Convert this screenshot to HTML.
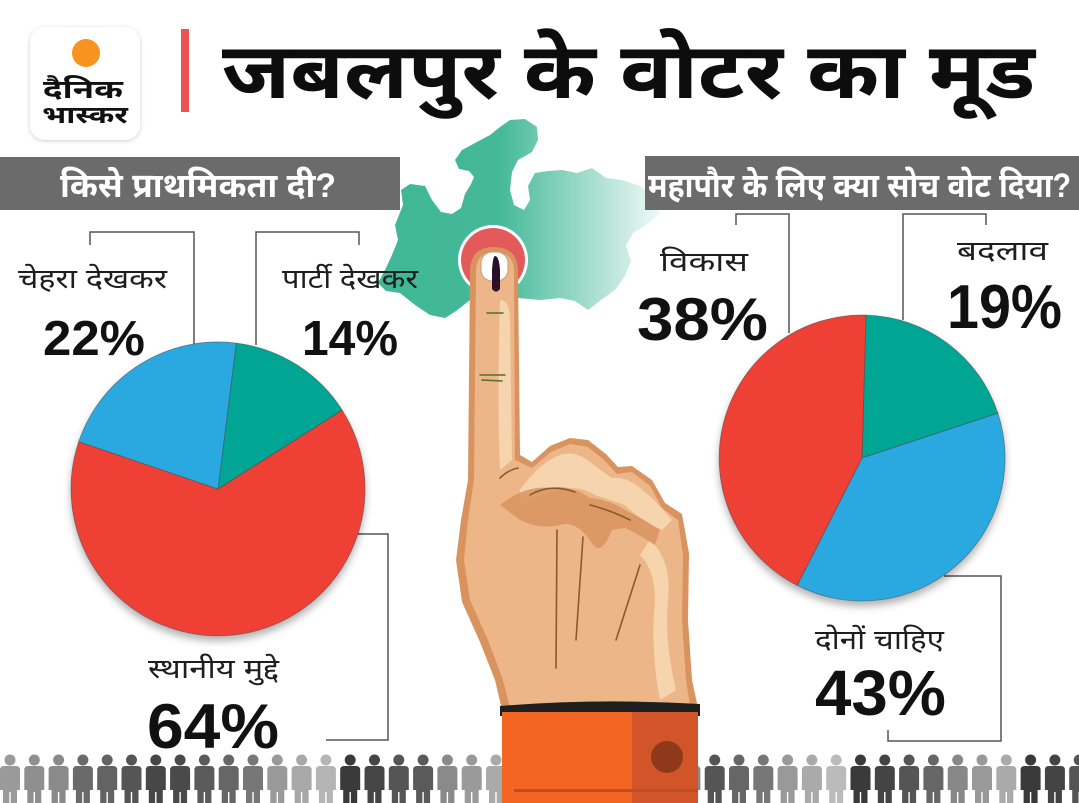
<!DOCTYPE html>
<html><head><meta charset="utf-8"><style>
html,body{margin:0;padding:0;background:#fff;width:1079px;height:803px;overflow:hidden}
svg{display:block}
text{font-family:"Liberation Sans","Noto Sans Devanagari","Lohit Devanagari",FreeSans,sans-serif}
</style></head><body>
<svg width="1079" height="803" viewBox="0 0 1079 803" xmlns="http://www.w3.org/2000/svg">
<defs>
<linearGradient id="mapg" x1="380" y1="0" x2="665" y2="0" gradientUnits="userSpaceOnUse">
<stop offset="0" stop-color="#3fb795"/><stop offset="0.42" stop-color="#45b999"/><stop offset="1" stop-color="#45b999" stop-opacity="0.05"/>
</linearGradient>
<filter id="sh" x="-20%" y="-20%" width="140%" height="150%"><feDropShadow dx="0" dy="5" stdDeviation="4" flood-color="#000" flood-opacity="0.3"/></filter>
<filter id="ls" x="-20%" y="-20%" width="140%" height="140%"><feDropShadow dx="0" dy="1" stdDeviation="2" flood-color="#000" flood-opacity="0.2"/></filter>
</defs>

<!-- logo -->
<rect x="30" y="27" width="110" height="113" rx="15" fill="#fff" filter="url(#ls)"/>
<circle cx="86" cy="53" r="14" fill="#f7931e"/>
<text x="43" y="98" font-size="26" font-weight="bold" fill="#111" textLength="80" lengthAdjust="spacingAndGlyphs">दैनिक</text>
<text x="42" y="123" font-size="24" font-weight="bold" fill="#111" textLength="86" lengthAdjust="spacingAndGlyphs">भास्कर</text>

<!-- red bar + title -->
<rect x="181" y="29" width="8" height="83" fill="#ee5252"/>
<text x="222" y="98" font-size="78" font-weight="bold" fill="#0d0d0d" textLength="813" lengthAdjust="spacingAndGlyphs">जबलपुर के वोटर का मूड</text>

<!-- map -->
<path fill="url(#mapg)" d="M455,160 L462,150 L475,143 L490,135 L500,127 L510,120 L525,119 L537,127 L538,140 L532,152 L518,160 L512,172 L510,190 L514,205 L524,210 L530,200 L528,186 L535,173 L548,171 L562,170 L577,173 L592,168 L606,178 L622,180 L640,186 L656,198 L660,214 L646,225 L633,233 L626,246 L631,261 L625,276 L615,290 L601,300 L588,310 L575,301 L560,298 L540,300 L518,298 L470,300 L456,311 L445,318 L430,315 L415,305 L400,293 L386,291 L378,283 L385,270 L392,255 L398,240 L395,225 L403,205 L401,190 L410,184 L425,186 L432,200 L441,212 L452,214 L461,208 L465,194 L471,184 L474,177 L469,171 L459,169 Z"/>

<!-- gray headers -->
<rect x="0" y="157" width="400" height="53" fill="#6b6b6b"/>
<text x="60" y="197" font-size="34" font-weight="bold" fill="#fff" textLength="276" lengthAdjust="spacingAndGlyphs">किसे प्राथमिकता दी?</text>
<rect x="645" y="156" width="434" height="54" fill="#6b6b6b"/>
<text x="648" y="197" font-size="34" font-weight="bold" fill="#fff" textLength="423" lengthAdjust="spacingAndGlyphs">महापौर के लिए क्या सोच वोट दिया?</text>

<!-- people row -->
<g id="people">
<g fill="#9a9a9a"><circle cx="10" cy="760" r="5.5"/><path d="M1,768 Q1,765 5,765 L15,765 Q19,765 19,768 L19,790 L16,790 L16,803 L4,803 L4,790 L1,790 Z"/></g>
</g>
<g id="pp"></g>

<!-- connectors -->
<g fill="none" stroke="#555" stroke-width="1.5">
<polyline points="90,245 90,232 194,232 194,345"/>
<polyline points="256,345 256,232 359,232 359,245"/>
<polyline points="358,534 388,534 388,740 326,740"/>
<polyline points="736,225 736,214 789,214 789,333"/>
<polyline points="903,320 903,214 986,214 986,225"/>
<polyline points="944,576 1001,576 1001,741 888,741 888,730"/>
</g>

<!-- left pie -->
<g filter="url(#sh)" stroke="#4a4a4a" stroke-width="0.8" stroke-opacity="0.6">
<path fill="#00a594" d="M218,489 L236.2,343.1 A147,147 0 0 1 342.2,410.2 Z"/>
<path fill="#ee4036" d="M218,489 L342.2,410.2 A147,147 0 1 1 78.8,441.6 Z"/>
<path fill="#2ca9e1" d="M218,489 L78.8,441.6 A147,147 0 0 1 236.2,343.1 Z"/>
</g>
<!-- right pie -->
<g filter="url(#sh)" stroke="#4a4a4a" stroke-width="0.8" stroke-opacity="0.6">
<path fill="#00a594" d="M862,458 L866,315.1 A143,143 0 0 1 997.9,413.3 Z"/>
<path fill="#2ca9e1" d="M862,458 L997.9,413.3 A143,143 0 0 1 797.1,585.4 Z"/>
<path fill="#ee4036" d="M862,458 L797.1,585.4 A143,143 0 0 1 866,315.1 Z"/>
</g>

<!-- labels -->
<g fill="#1e1e1e" font-size="27">
<text x="18" y="288" textLength="149" lengthAdjust="spacingAndGlyphs">चेहरा देखकर</text>
<text x="282" y="288" textLength="136" lengthAdjust="spacingAndGlyphs">पार्टी देखकर</text>
<text x="148" y="678" textLength="131" lengthAdjust="spacingAndGlyphs">स्थानीय मुद्दे</text>
<text x="660" y="271" textLength="88" lengthAdjust="spacingAndGlyphs">विकास</text>
<text x="957" y="260" textLength="91" lengthAdjust="spacingAndGlyphs">बदलाव</text>
<text x="815" y="649" textLength="129" lengthAdjust="spacingAndGlyphs">दोनों चाहिए</text>
</g>
<g fill="#111" font-weight="bold">
<text x="43" y="355" font-size="49" textLength="102" lengthAdjust="spacingAndGlyphs">22%</text>
<text x="302" y="355" font-size="49" textLength="96" lengthAdjust="spacingAndGlyphs">14%</text>
<text x="147" y="748" font-size="63" textLength="132" lengthAdjust="spacingAndGlyphs">64%</text>
<text x="637" y="340" font-size="60" textLength="131" lengthAdjust="spacingAndGlyphs">38%</text>
<text x="947" y="328" font-size="62" textLength="115" lengthAdjust="spacingAndGlyphs">19%</text>
<text x="815" y="715" font-size="64" textLength="131" lengthAdjust="spacingAndGlyphs">43%</text>
</g>

<!-- red circle -->
<circle cx="493" cy="260" r="35" fill="#fff"/>
<circle cx="493" cy="260" r="32" fill="#e35a5a"/>

<!-- hand -->
<path fill="#d9935f" d="M470,272 Q470,247 494,247 Q518,247 518,272 L520,455 L532,462 L550,446 L570,438 L588,440 L606,454 L618,467 L632,466 L652,480 L665,503 L682,514 L689,553 L688,620 L692,680 L698,708 L502,710 L495,680 L480,642 L462,602 L456,560 L461,520 L468,480 Z"/>
<path fill="#ecb689" d="M476,272 Q476,252 494,252 Q514,252 514,272 L515,460 L532,468 L551,452 L570,444 L588,447 L604,460 L617,474 L632,472 L650,486 L662,508 L678,520 L683,555 L682,620 L686,680 L690,706 L510,708 L503,680 L488,640 L470,600 L464,560 L468,520 L474,480 Z"/>
<path fill="#f5d4ae" d="M500,300 Q510,300 510,320 L512,460 L500,470 Q497,400 500,300 Z"/>
<path fill="#f5d4ae" d="M520,490 Q540,462 560,455 Q575,450 590,462 Q600,470 612,478 Q628,476 645,492 Q660,505 672,520 L662,530 Q640,520 625,505 Q610,500 595,495 Q580,485 560,490 Q540,495 520,505 Z"/>
<path fill="#f5d4ae" d="M650,540 Q672,560 668,600 Q664,640 676,690 L660,700 Q650,650 655,600 Q655,570 640,555 Z"/>
<path fill="#d9935f" d="M500,505 Q525,485 550,488 Q570,484 590,498 Q610,500 625,510 Q645,520 660,530 L655,545 Q640,535 625,528 L612,530 Q600,560 590,540 Q575,520 560,525 Q540,530 520,520 Z" opacity="0.85"/>
<g stroke="#8a5a2a" stroke-width="1.6" fill="none" stroke-linecap="round">
<path d="M557,530 L556,668"/><path d="M583,537 L576,640"/><path d="M640,565 L616,640"/>
<path d="M500,478 Q508,470 518,468"/>
<path d="M530,495 Q550,483 575,492"/><path d="M590,505 Q610,510 630,520"/>
</g>
<g stroke="#5a6a2a" stroke-width="1.5" fill="none" stroke-linecap="round">
<path d="M487,313 L503,313"/><path d="M480,375 L505,375"/><path d="M482,380 L502,381"/>
</g>
<!-- nail + ink -->
<rect x="481" y="252" width="27" height="29" rx="11" fill="#fff" stroke="#c99a74" stroke-width="1"/>
<path fill="#2b0f2a" d="M495,256 Q499,256 500,270 L500,289 Q496,294 492,289 L492,270 Q493,256 495,256 Z"/>

<!-- sleeve -->
<path fill="#1f1f1f" d="M500,706 Q600,698 700,704 L700,716 L500,716 Z"/>
<rect x="502" y="712" width="196" height="91" fill="#f26522"/>
<rect x="632" y="712" width="66" height="91" fill="#d2552a"/>
<circle cx="667" cy="757" r="16" fill="#8e3a1a"/>
<rect x="514" y="789" width="184" height="3" fill="#c24c1f"/>

<script>
(function(){
var cols=["#9a9a9a","#8f8f8f","#8a8a8a","#6a6a6a","#636363","#555","#474747","#4a4a4a","#5a5a5a","#666","#777","#999","#a8a8a8","#b5b5b5","#3a3a3a","#454545","#555","#5a5a5a","#8a8a8a","#9a9a9a","#aaa",
"#888","#888","#888","#888","#888","#888","#888","#888",
"#555","#666","#777","#999","#aaa","#bbb","#3a3a3a","#444","#555","#666","#888","#999","#aaa","#3a3a3a","#444","#555"];
var ns="http://www.w3.org/2000/svg",g=document.getElementById("pp");
document.getElementById("people").innerHTML="";
for(var i=0;i<45;i++){
 var x=10+i*24.3;
 var gg=document.createElementNS(ns,"g");gg.setAttribute("fill",cols[i]);
 var c=document.createElementNS(ns,"circle");c.setAttribute("cx",x);c.setAttribute("cy",760);c.setAttribute("r",5.5);gg.appendChild(c);
 var p=document.createElementNS(ns,"path");
 p.setAttribute("d","M"+(x-10)+",770 Q"+(x-10)+",766 "+(x-6)+",766 L"+(x+6)+",766 Q"+(x+10)+",766 "+(x+10)+",770 L"+(x+10)+",790 L"+(x+7)+",790 L"+(x+7)+",803 L"+(x+0.7)+",803 L"+(x+0.7)+",792 L"+(x-0.7)+",792 L"+(x-0.7)+",803 L"+(x-7)+",803 L"+(x-7)+",790 L"+(x-10)+",790 Z");
 gg.appendChild(p);g.appendChild(gg);
}
var sl=document.querySelectorAll("svg > path, svg > rect, svg > circle");
})();
</script>
</svg>
</body></html>
